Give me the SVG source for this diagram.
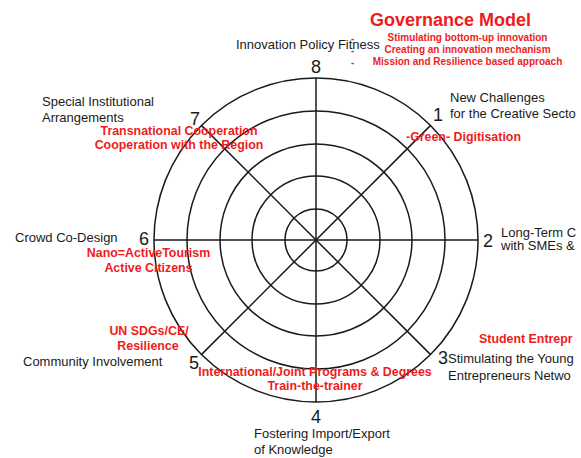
<svg xmlns="http://www.w3.org/2000/svg" width="581" height="458" viewBox="0 0 581 458">
<style>
.ring{fill:none;stroke:#1a1a1a;stroke-width:1.5}
.spoke{stroke:#1a1a1a;stroke-width:1.5}
.lbl{font-family:"Liberation Sans",Arial,sans-serif;font-size:13px;fill:#1a1a1a}
.num{font-family:"Liberation Sans",Arial,sans-serif;font-size:18px;fill:#1a1a1a;text-anchor:middle}
.red{font-family:"Liberation Sans",Arial,sans-serif;font-weight:bold;font-size:12.4px;fill:#ee1c1c}
.redsm{font-family:"Liberation Sans",Arial,sans-serif;font-weight:bold;font-size:10px;fill:#ee1c1c}
.mid{text-anchor:middle}
</style>
<rect width="581" height="458" fill="#ffffff"/>
<g id="wheel">
<circle class="ring" cx="316" cy="240" r="162"/>
<circle class="ring" cx="316" cy="240" r="129"/>
<circle class="ring" cx="316" cy="240" r="96"/>
<circle class="ring" cx="316" cy="240" r="64"/>
<circle class="ring" cx="316" cy="240" r="31"/>
</g>
<g id="connectors">
<line class="spoke" x1="316" y1="78" x2="316" y2="402"/>
<line class="spoke" x1="154" y1="240" x2="478" y2="240"/>
<line class="spoke" x1="201.4" y1="125.4" x2="430.6" y2="354.6"/>
<line class="spoke" x1="430.6" y1="125.4" x2="201.4" y2="354.6"/>
</g>
<g id="title">
<text class="red" x="370" y="26" style="font-size:18px">Governance Model</text>
<text class="redsm" x="351" y="42">-</text>
<text class="redsm" x="351" y="54">-</text>
<text class="redsm" x="351" y="66">-</text>
<text class="redsm mid" x="467.5" y="41">Stimulating bottom-up innovation</text>
<text class="redsm mid" x="467.5" y="53">Creating an innovation mechanism</text>
<text class="redsm mid" x="467.5" y="65">Mission and Resilience based approach</text>
</g>
<g id="node8">
<text class="lbl" x="236" y="49">Innovation Policy Fitness</text>
<text class="num" x="316" y="73">8</text>
</g>
<g id="node1">
<text class="num" x="438" y="121">1</text>
<text class="lbl" x="450" y="102">New Challenges</text>
<text class="lbl" x="450" y="118">for the Creative Secto</text>
<text class="red" x="406" y="141">-Green- Digitisation</text>
</g>
<g id="node2">
<text class="num" x="488" y="247">2</text>
<text class="lbl" x="501" y="237">Long-Term C</text>
<text class="lbl" x="501" y="250">with SMEs &amp;</text>
</g>
<g id="node3">
<text class="num" x="443" y="364">3</text>
<text class="red" x="479" y="343">Student Entrepr</text>
<text class="lbl" x="448" y="363">Stimulating the Young</text>
<text class="lbl" x="448" y="380">Entrepreneurs Netwo</text>
</g>
<g id="node4">
<text class="num" x="316" y="423">4</text>
<text class="lbl" x="254" y="438">Fostering Import/Export</text>
<text class="lbl" x="254" y="454">of Knowledge</text>
</g>
<g id="node5">
<text class="num" x="194" y="369">5</text>
<text class="lbl" x="23" y="366">Community Involvement</text>
<text class="red mid" x="149" y="335">UN SDGs/CE/</text>
<text class="red mid" x="148" y="350">Resilience</text>
<text class="red mid" x="315" y="376">International/Joint Programs &amp; Degrees</text>
<text class="red mid" x="315" y="390">Train-the-trainer</text>
</g>
<g id="node6">
<text class="num" x="144" y="245">6</text>
<text class="lbl" x="15" y="242">Crowd Co-Design</text>
<text class="red mid" x="148.5" y="257">Nano=ActiveTourism</text>
<text class="red mid" x="148.5" y="272">Active Citizens</text>
</g>
<g id="node7">
<text class="num" x="195" y="125">7</text>
<text class="lbl" x="42" y="106">Special Institutional</text>
<text class="lbl" x="42" y="122">Arrangements</text>
<text class="red mid" x="179" y="135">Transnational Cooperation</text>
<text class="red mid" x="179" y="149">Cooperation with the Region</text>
</g>
</svg>
